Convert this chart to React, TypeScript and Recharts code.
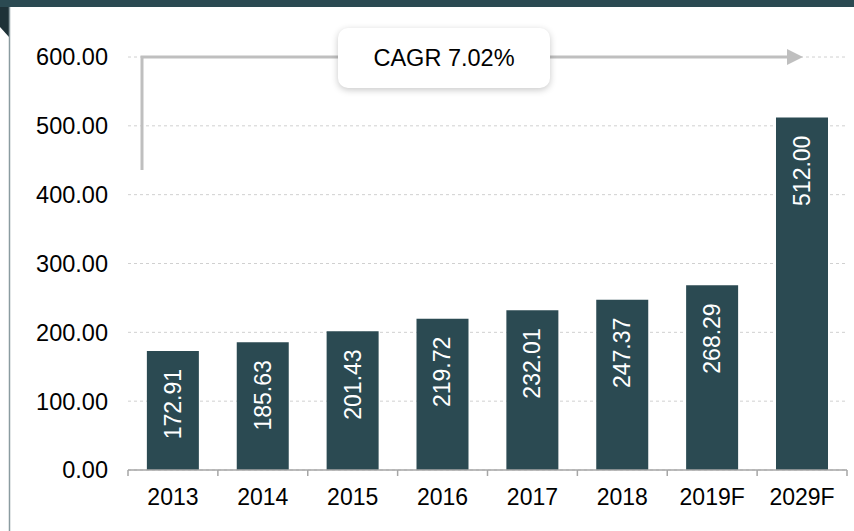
import { BarChart, Bar, XAxis, YAxis, CartesianGrid, LabelList } from "recharts";

const years = ["2013", "2014", "2015", "2016", "2017", "2018", "2019F", "2029F"];
const marketSize = [172.91, 185.63, 201.43, 219.72, 232.01, 247.37, 268.29, 512.0];
const yTicks = [0, 100, 200, 300, 400, 500, 600];
const cagrText = "CAGR 7.02%";

const data = years.map((year, i) => ({ year, value: marketSize[i] }));

const W = 854;
const H = 531;
const Y_AXIS_W = 128;
const RIGHT = 7;
const TOP = 57;
const X_AXIS_H = 38;
const BOTTOM = 23;
const BAND = (W - Y_AXIS_W - RIGHT) / years.length;

const FONT = '"Liberation Sans", Arial, sans-serif';
const DARK = "#2b4a52";

const XTick = (props: any) => {
    const { x, y, payload, index } = props;
    const axisY = y - 8;
    return (
        <g>
            <line x1={x - BAND / 2} y1={axisY} x2={x - BAND / 2} y2={axisY + 6} stroke="#a6a6a6" strokeWidth={1.5} />
            {index === years.length - 1 && (
                <line x1={x + BAND / 2} y1={axisY} x2={x + BAND / 2} y2={axisY + 6} stroke="#a6a6a6" strokeWidth={1.5} />
            )}
            <text x={x} y={axisY + 35} textAnchor="middle" fontSize={23} fontFamily={FONT} fill="#000">
                {payload.value}
            </text>
        </g>
    );
};

const BarValue = (props: any) => {
    const { x, y, width, value } = props;
    return (
        <text
            transform={`translate(${x + width / 2}, ${y + 18}) rotate(-90)`}
            textAnchor="end"
            dominantBaseline="central"
            fontSize={23}
            fontFamily={FONT}
            fill="#fff"
        >
            {Number(value).toFixed(2)}
        </text>
    );
};

export default function App() {
    return (
        <div style={{ position: "absolute", left: 0, top: 0, width: W, height: H, overflow: "hidden", background: "#fff", fontFamily: FONT }}>
            <BarChart
                width={W}
                height={H}
                data={data}
                margin={{ top: TOP, right: RIGHT, left: 0, bottom: BOTTOM }}
                barCategoryGap="21%"
            >
                <CartesianGrid vertical={false} stroke="#d0d0d0" strokeDasharray="3 3" />
                <YAxis
                    width={Y_AXIS_W}
                    domain={[0, 600]}
                    ticks={yTicks}
                    axisLine={false}
                    tickLine={false}
                    tickMargin={14}
                    tickFormatter={(v: number) => v.toFixed(2)}
                    tick={{ fontSize: 23.5, fill: "#000", fontFamily: FONT }}
                />
                <XAxis
                    dataKey="year"
                    height={X_AXIS_H}
                    axisLine={{ stroke: "#a6a6a6", strokeWidth: 1.5 }}
                    tickLine={false}
                    tickSize={6}
                    tickMargin={2}
                    interval={0}
                    tick={<XTick />}
                />
                <Bar dataKey="value" fill={DARK} isAnimationActive={false}>
                    <LabelList dataKey="value" content={<BarValue />} />
                </Bar>
            </BarChart>

            {/* CAGR arrow */}
            <svg width={W} height={H} style={{ position: "absolute", left: 0, top: 0, pointerEvents: "none" }}>
                <polyline points={`142,170 142,${TOP} 790,${TOP}`} fill="none" stroke="#bfbfbf" strokeWidth={3} />
                <polygon points={`787,${TOP - 8} 803,${TOP} 787,${TOP + 8}`} fill="#bfbfbf" />
            </svg>
            <div
                style={{
                    position: "absolute",
                    left: 338,
                    top: 28,
                    width: 212,
                    height: 60,
                    background: "#fff",
                    borderRadius: 10,
                    boxShadow: "0 2px 7px rgba(0,0,0,0.22)",
                    display: "flex",
                    alignItems: "center",
                    justifyContent: "center",
                    fontSize: 23.5,
                    color: "#000",
                }}
            >
                {cagrText}
            </div>

            {/* frame pieces */}
            <div style={{ position: "absolute", left: 0, top: 0, width: W, height: 7, background: DARK }} />
            <svg width={12} height={H} style={{ position: "absolute", left: 0, top: 0 }}>
                <polygon points="0,7 9,7 9,37 0,27" fill="#1e3238" />
                <line x1={9.5} y1={7} x2={9.5} y2={H} stroke="#8a9ba0" strokeWidth={1.5} />
            </svg>
        </div>
    );
}
